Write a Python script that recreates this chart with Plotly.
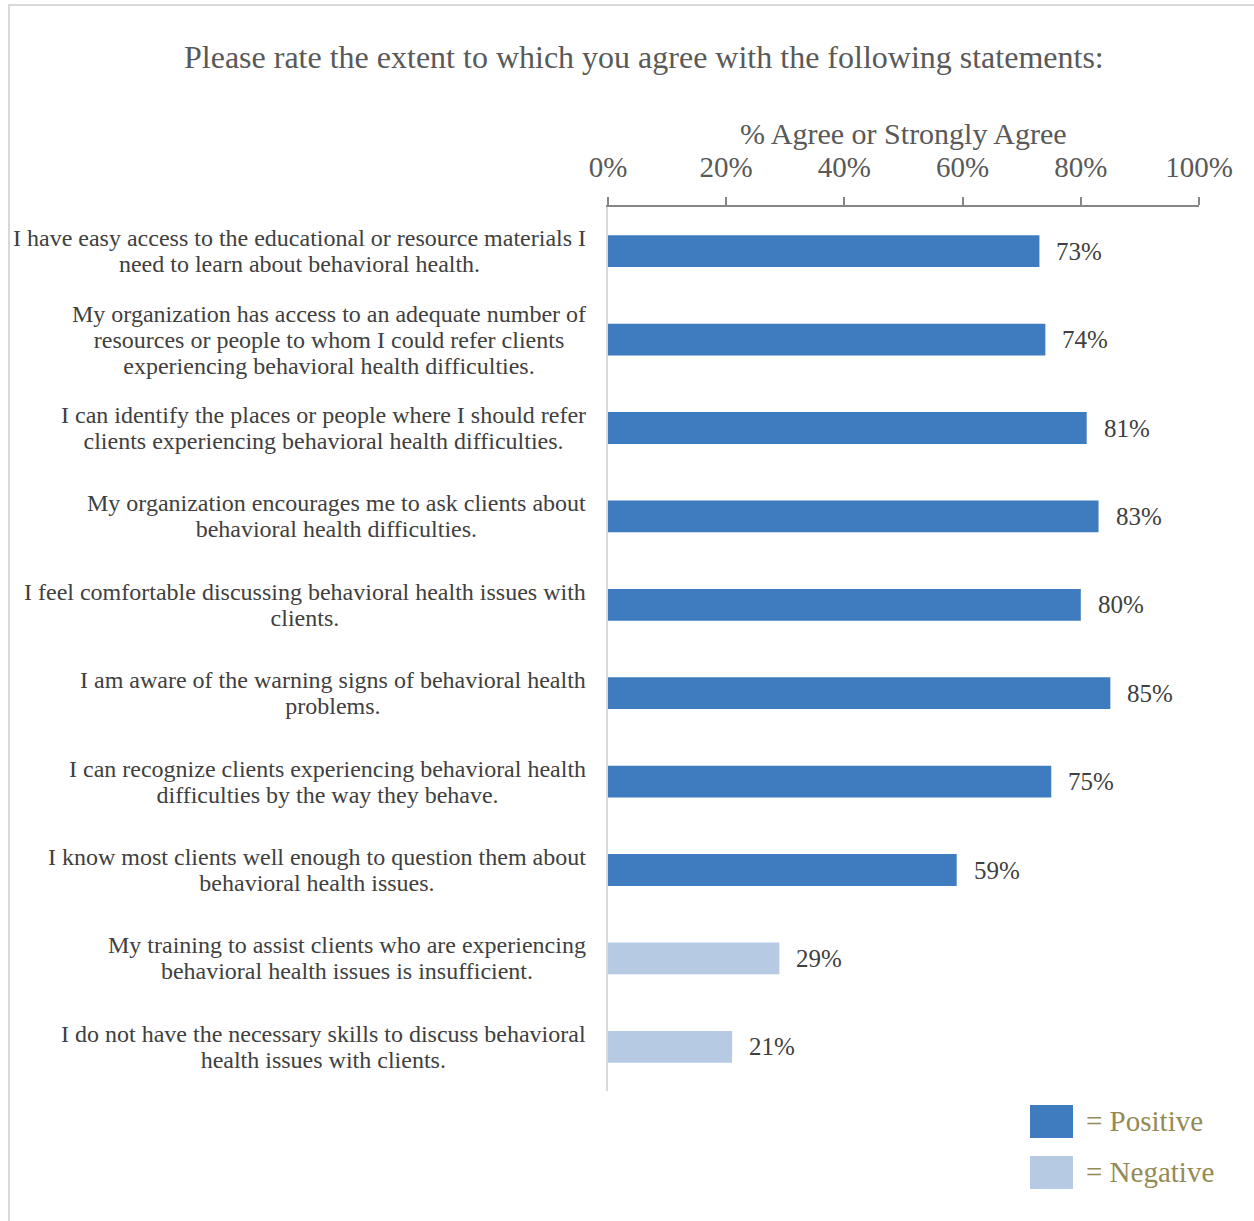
import plotly.graph_objects as go

categories = [
    "I have easy access to the educational or resource materials I<br>need to learn about behavioral health.",
    "My organization has access to an adequate number of<br>resources or people to whom I could refer clients<br>experiencing behavioral health difficulties.",
    "I can identify the places or people where I should refer<br>clients experiencing behavioral health difficulties.",
    "My organization encourages me to ask clients about<br>behavioral health difficulties.",
    "I feel comfortable discussing behavioral health issues with<br>clients.",
    "I am aware of the warning signs of behavioral health<br>problems.",
    "I can recognize clients experiencing behavioral health<br>difficulties by the way they behave.",
    "I know most clients well enough to question them about<br>behavioral health issues.",
    "My training to assist clients who are experiencing<br>behavioral health issues is insufficient.",
    "I do not have the necessary skills to discuss behavioral<br>health issues with clients.",
]
values = [73, 74, 81, 83, 80, 85, 75, 59, 29, 21]
kinds = ["Positive"] * 8 + ["Negative"] * 2
tick_vals = [0, 20, 40, 60, 80, 100]
tick_text = ["0%", "20%", "40%", "60%", "80%", "100%"]

COL = {"Positive": "#3F7CBF", "Negative": "#B7CAE4"}
FONT = "Liberation Serif"
ids = list(range(len(categories)))

fig = go.Figure()
fig.add_trace(go.Bar(
    x=values, y=ids, orientation="h",
    marker=dict(color=[COL[k] for k in kinds], line=dict(width=0)),
    hoverinfo="skip", showlegend=False,
))

W, H = 1254, 1221
L, R, T, B = 608, 55, 207, 130
pw = W - L - R
ph = H - T - B

def px(xp):
    return (xp - L) / pw

def py(yp):
    return 1 - (yp - T) / ph

annotations = []
for i, (c, v) in enumerate(zip(categories, values)):
    lines = c.split("<br>")
    txt = "<br>".join(f'<span style="font-size:24px">{ln}</span>' for ln in lines)
    annotations.append(dict(
        x=px(588), xref="paper", y=i, yref="y", text=txt, showarrow=False,
        xanchor="right", yanchor="middle", align="center",
        font=dict(family=FONT, size=20, color="#404040"),
    ))
    annotations.append(dict(
        x=v, xref="x", y=i, yref="y", text=f"{v}%", showarrow=False,
        xanchor="left", yanchor="middle", xshift=15,
        font=dict(family=FONT, size=25, color="#404040"),
    ))

# title and axis title
annotations.append(dict(
    x=px(644), xref="paper", y=py(57), yref="paper",
    text="Please rate the extent to which you agree with the following statements:",
    showarrow=False, xanchor="center", yanchor="middle",
    font=dict(family=FONT, size=32, color="#595959"),
))
annotations.append(dict(
    x=0.5, xref="paper", y=py(133), yref="paper",
    text="% Agree or Strongly Agree", showarrow=False,
    xanchor="center", yanchor="middle",
    font=dict(family=FONT, size=30, color="#595959"),
))

# legend
legend_items = [("Positive", 1121), ("Negative", 1172)]
shapes = []
for name, yc in legend_items:
    shapes.append(dict(
        type="rect", xref="paper", yref="paper",
        x0=px(1030), x1=px(1073), y0=py(yc - 16), y1=py(yc + 17),
        fillcolor=COL[name], line=dict(width=0),
    ))
    annotations.append(dict(
        x=px(1084), xref="paper", y=py(yc), yref="paper",
        text=f"= {name}", showarrow=False, xanchor="left", yanchor="middle",
        font=dict(family=FONT, size=29, color="#948A54"),
    ))

# outer border
shapes.append(dict(
    type="rect", xref="paper", yref="paper", layer="below",
    x0=px(9), x1=px(1270), y0=py(1240), y1=py(5),
    line=dict(color="#D9D9D9", width=2), fillcolor="rgba(0,0,0,0)",
))

fig.update_layout(
    width=W, height=H,
    margin=dict(l=L, r=R, t=T, b=B, autoexpand=False),
    paper_bgcolor="white", plot_bgcolor="white",
    bargap=0.64,
    font=dict(family=FONT, color="#595959"),
    annotations=annotations, shapes=shapes,
    xaxis=dict(
        side="top", range=[0, 100], tickvals=tick_vals, ticktext=tick_text,
        showgrid=False, zeroline=False, showline=True, linecolor="#868686",
        linewidth=2, ticks="outside", ticklen=8, tickwidth=2, tickcolor="#868686",
        tickfont=dict(family=FONT, size=29, color="#595959"),
        ticklabelstandoff=8, fixedrange=True,
    ),
    yaxis=dict(
        range=[len(categories) - 0.5, -0.5], showticklabels=False, ticks="",
        showgrid=False, zeroline=False, showline=True, linecolor="#D9D9D9",
        linewidth=2, fixedrange=True,
    ),
)

fig.write_html("out.html")
